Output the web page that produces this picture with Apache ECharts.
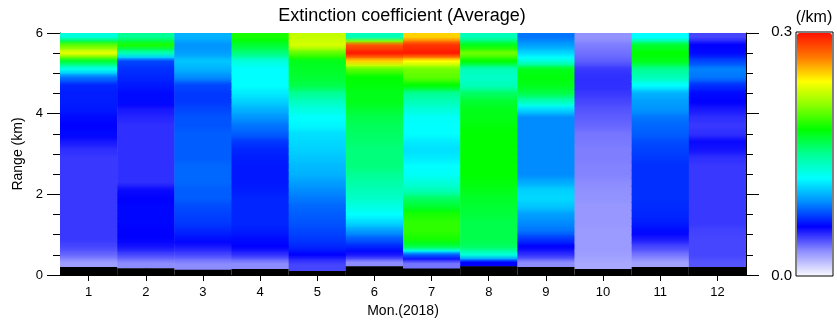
<!DOCTYPE html>
<html>
<head>
<meta charset="utf-8">
<script src="https://cdn.jsdelivr.net/npm/echarts@6/dist/echarts.min.js"></script>
<style>
  html, body { margin: 0; padding: 0; background: #fff; }
  #chart { width: 837px; height: 324px; }
</style>
</head>
<body>
<div id="chart"></div>
<script>
// months on the x axis
const months = ['1', '2', '3', '4', '5', '6', '7', '8', '9', '10', '11', '12']
// bottom of each range bin (km), each bin is 0.2 km thick, top of the last one is 6.0
const levels = [0.2, 0.4, 0.6, 0.8, 1.0, 1.2, 1.4, 1.6, 1.8, 2.0, 2.2, 2.4, 2.6, 2.8, 3.0,
  3.2, 3.4, 3.6, 3.8, 4.0, 4.2, 4.4, 4.6, 4.8, 5.0, 5.2, 5.4, 5.6, 5.8]
const rangeTop = 6.0
// lowest valid range per month (below it: no data, black)
const ground = [0.2, 0.17, 0.13, 0.15, 0.1, 0.22, 0.16, 0.22, 0.2, 0.15, 0.2, 0.2]
const yTicks = [0, 2, 4, 6]
const barTicks = [0.0, 0.3]

// extinction coefficient (/km), one value per bin from the bottom up
const jan = [0.025, 0.038, 0.045, 0.048, 0.048, 0.048, 0.048, 0.048, 0.048, 0.048, 0.048, 0.048, 0.048, 0.048, 0.05,
  0.055, 0.062, 0.06, 0.062, 0.065, 0.066, 0.066, 0.068, 0.085, 0.125, 0.17, 0.235, 0.2, 0.13]
const feb = [0.03, 0.045, 0.056, 0.06, 0.06, 0.061, 0.061, 0.061, 0.06, 0.058, 0.05, 0.05, 0.05, 0.05, 0.05,
  0.05, 0.05, 0.05, 0.052, 0.055, 0.062, 0.062, 0.065, 0.068, 0.07, 0.075, 0.14, 0.185, 0.15]
const mar = [0.03, 0.045, 0.055, 0.063, 0.068, 0.072, 0.074, 0.076, 0.08, 0.08, 0.082, 0.082, 0.082, 0.08, 0.08,
  0.08, 0.08, 0.078, 0.078, 0.075, 0.072, 0.072, 0.075, 0.09, 0.1, 0.105, 0.095, 0.092, 0.1]
const apr = [0.03, 0.05, 0.06, 0.062, 0.066, 0.068, 0.068, 0.068, 0.068, 0.066, 0.065, 0.065, 0.065, 0.066, 0.068,
  0.072, 0.08, 0.085, 0.092, 0.1, 0.108, 0.115, 0.12, 0.12, 0.12, 0.13, 0.155, 0.17, 0.185]
const may = [0.045, 0.06, 0.068, 0.072, 0.075, 0.078, 0.08, 0.082, 0.086, 0.09, 0.095, 0.1, 0.102, 0.105, 0.108,
  0.11, 0.112, 0.118, 0.12, 0.128, 0.138, 0.15, 0.165, 0.17, 0.172, 0.175, 0.2, 0.23, 0.225]
const jun = [0.03, 0.055, 0.068, 0.08, 0.095, 0.11, 0.12, 0.128, 0.135, 0.14, 0.145, 0.15, 0.155, 0.155, 0.155,
  0.158, 0.16, 0.162, 0.165, 0.17, 0.175, 0.175, 0.178, 0.18, 0.2, 0.25, 0.298, 0.28, 0.14]
const jul = [0.035, 0.08, 0.165, 0.185, 0.19, 0.19, 0.185, 0.17, 0.16, 0.14, 0.13, 0.122, 0.12, 0.115, 0.112,
  0.115, 0.12, 0.12, 0.122, 0.13, 0.14, 0.15, 0.18, 0.2, 0.205, 0.24, 0.298, 0.29, 0.25]
const aug = [0.06, 0.13, 0.16, 0.165, 0.165, 0.165, 0.168, 0.17, 0.172, 0.175, 0.178, 0.18, 0.18, 0.18, 0.18,
  0.18, 0.18, 0.178, 0.176, 0.175, 0.17, 0.16, 0.14, 0.135, 0.14, 0.18, 0.205, 0.175, 0.14]
const sep = [0.03, 0.05, 0.06, 0.072, 0.085, 0.09, 0.095, 0.105, 0.11, 0.108, 0.098, 0.09, 0.09, 0.09, 0.09,
  0.09, 0.09, 0.09, 0.09, 0.11, 0.14, 0.165, 0.175, 0.178, 0.175, 0.13, 0.11, 0.095, 0.085]
const oct = [0.022, 0.025, 0.026, 0.026, 0.026, 0.027, 0.027, 0.027, 0.028, 0.029, 0.03, 0.032, 0.032, 0.033, 0.033,
  0.034, 0.035, 0.038, 0.04, 0.042, 0.045, 0.048, 0.05, 0.05, 0.048, 0.04, 0.036, 0.033, 0.028]
const nov = [0.024, 0.035, 0.045, 0.055, 0.062, 0.066, 0.068, 0.069, 0.07, 0.07, 0.07, 0.07, 0.07, 0.072, 0.074,
  0.076, 0.08, 0.082, 0.085, 0.092, 0.095, 0.1, 0.12, 0.14, 0.15, 0.175, 0.18, 0.17, 0.12]
const dec = [0.042, 0.045, 0.045, 0.045, 0.046, 0.048, 0.048, 0.048, 0.048, 0.048, 0.048, 0.048, 0.048, 0.05, 0.056,
  0.058, 0.05, 0.048, 0.05, 0.055, 0.06, 0.062, 0.07, 0.085, 0.088, 0.075, 0.062, 0.06, 0.045]

const profiles = [jan, feb, mar, apr, may, jun, jul, aug, sep, oct, nov, dec]

// colour scale of the bar on the right, 0.0 -> 0.3
const colorStops = ['#f6f6ff', '#8c8cff', '#0000ff', '#008cff', '#00ffff', '#00ff94',
  '#00ff00', '#88ff00', '#ffff00', '#ff7800', '#ff1200']

const FONT = '"Liberation Sans", Arial, Helvetica, sans-serif'

// [month index, bin bottom, bin top, value, value above, value below]
const cells = []
profiles.forEach((prof, m) => {
  prof.forEach((v, k) => {
    const lo = k === 0 ? ground[m] : levels[k]
    const hi = k + 1 < levels.length ? levels[k + 1] : rangeTop
    const up = k + 1 < prof.length ? prof[k + 1] : v
    const down = k > 0 ? prof[k - 1] : v
    cells.push([m, lo, hi, v, up, down])
  })
})

// same linear palette lookup the visualMap does
function colorOf(v) {
  let t = (v - barTicks[0]) / (barTicks[1] - barTicks[0])
  t = Math.max(0, Math.min(1, t))
  return echarts.color.lerp(t, colorStops)
}

const chart = echarts.init(document.getElementById('chart'), null, { renderer: 'canvas' })

const blackLine = { color: '#000', width: 1 }

let option = {
  animation: false,
  backgroundColor: '#fff',
  textStyle: { fontFamily: FONT, color: '#000' },
  title: [
    {
      text: 'Extinction coefficient (Average)',
      left: 402,
      top: 7,
      textAlign: 'center',
      padding: 0,
      textStyle: { fontSize: 18, fontWeight: 'normal', color: '#000', fontFamily: FONT }
    },
    {
      text: '(/km)',
      left: 814,
      top: 10,
      textAlign: 'center',
      padding: 0,
      textStyle: { fontSize: 16, fontWeight: 'normal', color: '#000', fontFamily: FONT }
    }
  ],
  grid: [
    { left: 60, right: 91, top: 33, bottom: 49 },
    // frame of the colour bar
    { left: 796, top: 32, width: 37, height: 244, show: true, borderColor: '#000', borderWidth: 1, backgroundColor: 'transparent' }
  ],
  xAxis: [
    {
      type: 'category',
      data: months,
      gridIndex: 0,
      position: 'bottom',
      axisLine: { show: true, lineStyle: blackLine },
      axisTick: { show: true, alignWithLabel: true, length: 6, lineStyle: blackLine },
      axisLabel: { color: '#000', fontSize: 13, margin: 11, fontFamily: FONT },
      splitLine: { show: false },
      name: 'Mon.(2018)',
      nameLocation: 'middle',
      nameGap: 29,
      nameTextStyle: { fontSize: 14, color: '#000', fontFamily: FONT }
    },
    {
      type: 'category',
      data: months,
      gridIndex: 0,
      position: 'top',
      axisLine: { show: true, lineStyle: blackLine },
      axisTick: { show: true, alignWithLabel: true, length: 7, lineStyle: blackLine },
      axisLabel: { show: false },
      splitLine: { show: false }
    },
    {
      type: 'value',
      gridIndex: 1,
      show: false
    }
  ],
  yAxis: [
    {
      type: 'value',
      gridIndex: 0,
      min: yTicks[0],
      max: yTicks[yTicks.length - 1],
      interval: yTicks[1] - yTicks[0],
      position: 'left',
      axisLine: { show: true, lineStyle: blackLine },
      axisTick: { show: true, length: 13, lineStyle: blackLine },
      minorTick: { show: true, splitNumber: 4, length: 7, lineStyle: blackLine },
      axisLabel: { color: '#000', fontSize: 13, margin: 17, fontFamily: FONT },
      splitLine: { show: false },
      name: 'Range (km)',
      nameLocation: 'middle',
      nameGap: 34,
      nameTextStyle: { fontSize: 14, color: '#000', fontFamily: FONT }
    },
    {
      type: 'value',
      gridIndex: 0,
      min: yTicks[0],
      max: yTicks[yTicks.length - 1],
      interval: yTicks[1] - yTicks[0],
      position: 'right',
      axisLine: { show: true, lineStyle: blackLine },
      axisTick: { show: true, length: 13, lineStyle: blackLine },
      minorTick: { show: true, splitNumber: 4, length: 7, lineStyle: blackLine },
      axisLabel: { show: false },
      splitLine: { show: false }
    },
    {
      type: 'value',
      gridIndex: 1,
      min: barTicks[0],
      max: barTicks[1],
      interval: barTicks[1] - barTicks[0],
      position: 'left',
      axisLine: { show: false },
      axisTick: { show: false },
      axisLabel: {
        color: '#000', fontSize: 15, margin: 4, fontFamily: FONT,
        formatter: (v) => v.toFixed(1)
      },
      splitLine: { show: false }
    }
  ],
  visualMap: {
    type: 'continuous',
    seriesIndex: 0,
    dimension: 3,
    min: barTicks[0],
    max: barTicks[1],
    orient: 'vertical',
    left: 797,
    top: 33,
    itemWidth: 35,
    itemHeight: 242,
    padding: 0,
    calculable: false,
    hoverLink: false,
    text: null,
    inRange: { color: colorStops }
  },
  series: [
    {
      name: 'extinction',
      type: 'custom',
      xAxisIndex: 0,
      yAxisIndex: 0,
      clip: true,
      encode: { x: 0, y: [1, 2] },
      data: cells,
      renderItem: function (params, api) {
        const m = api.value(0)
        const top = api.coord([m, api.value(2)])
        const bottom = api.coord([m, api.value(1)])
        const w = api.size([1, 0])[0]
        const v = api.value(3)
        const fill = new echarts.graphic.LinearGradient(0, 0, 0, 1, [
          { offset: 0, color: colorOf((v + api.value(4)) / 2) },
          { offset: 0.5, color: colorOf(v) },
          { offset: 1, color: colorOf((v + api.value(5)) / 2) }
        ])
        return {
          type: 'rect',
          shape: {
            x: top[0] - w / 2,
            y: top[1] - 0.5,
            width: w + 0.5,
            height: bottom[1] - top[1] + 1
          },
          style: { fill: fill }
        }
      }
    },
    {
      // no data near the ground
      name: 'nodata',
      type: 'bar',
      xAxisIndex: 0,
      yAxisIndex: 0,
      barWidth: '100%',
      barGap: '-100%',
      itemStyle: { color: '#000' },
      data: ground,
      z: 3
    }
  ]
}

chart.setOption(option)
</script>
</body>
</html>
